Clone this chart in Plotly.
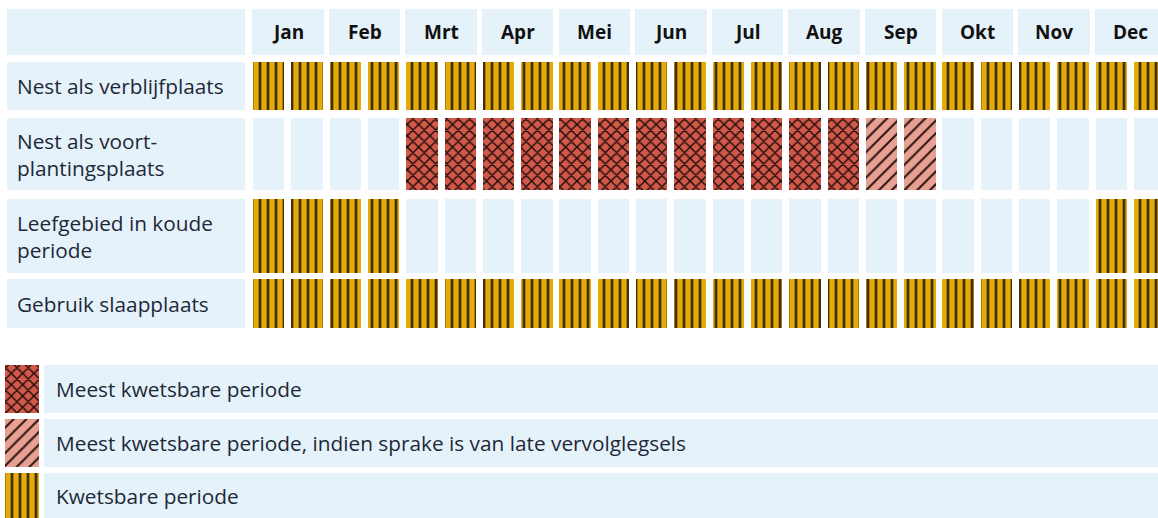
import plotly.graph_objects as go

# ---------------- data ----------------
months = ["Jan", "Feb", "Mrt", "Apr", "Mei", "Jun", "Jul", "Aug", "Sep", "Okt", "Nov", "Dec"]
row_labels = [
    "Nest als verblijfplaats",
    "Nest als voort-<br>plantingsplaats",
    "Leefgebied in koude<br>periode",
    "Gebruik slaapplaats",
]
# codes per half month: 0 = geen, 1 = kwetsbaar, 2 = meest kwetsbaar,
# 3 = meest kwetsbaar indien late vervolglegsels
nest_verblijfplaats = [1, 1, 1, 1, 1, 1, 1, 1, 1, 1, 1, 1, 1, 1, 1, 1, 1, 1, 1, 1, 1, 1, 1, 1]
nest_voortplanting = [0, 0, 0, 0, 2, 2, 2, 2, 2, 2, 2, 2, 2, 2, 2, 2, 3, 3, 0, 0, 0, 0, 0, 0]
leefgebied_koud = [1, 1, 1, 1, 0, 0, 0, 0, 0, 0, 0, 0, 0, 0, 0, 0, 0, 0, 0, 0, 0, 0, 1, 1]
slaapplaats = [1, 1, 1, 1, 1, 1, 1, 1, 1, 1, 1, 1, 1, 1, 1, 1, 1, 1, 1, 1, 1, 1, 1, 1]
rows = [nest_verblijfplaats, nest_voortplanting, leefgebied_koud, slaapplaats]

legend_codes = [2, 3, 1]
legend_labels = [
    "Meest kwetsbare periode",
    "Meest kwetsbare periode, indien sprake is van late vervolglegsels",
    "Kwetsbare periode",
]

# ---------------- styling ----------------
LIGHT = "#E5F2FA"
TEXT = "#1E2838"
FONT = "Open Sans"
GOLD = "#E4AC0B"
# each style is a list of pattern layers drawn on top of each other
styles = {
    0: [dict(color=LIGHT, pattern=dict(shape=""))],
    1: [dict(color=GOLD, pattern=dict(shape="|", fgcolor="#7A5600", bgcolor=GOLD,
                                      size=8, solidity=0.38, fillmode="replace")),
        dict(color="rgba(0,0,0,0)", pattern=dict(shape="|", fgcolor="#111111", bgcolor="rgba(0,0,0,0)",
                                                 size=8, solidity=0.14, fillmode="replace"))],
    2: [dict(color="#D2594A", pattern=dict(shape="x", fgcolor="#1A0A08", bgcolor="#D2594A",
                                           size=8, solidity=0.32, fillmode="replace"))],
    3: [dict(color="#E7A092", pattern=dict(shape="/", fgcolor="#2A1410", bgcolor="#E7A092",
                                           size=9, solidity=0.22, fillmode="replace"))],
}

W, H = 1158, 518
PITCH = 38.3          # px per half month
X_FIRST = 268.75      # px centre of first half-month cell
CELL_W = 0.82         # in half-month units


def ux(px):
    return (px - X_FIRST) / PITCH


header_band = (9, 55)
row_bands = [(62, 110), (118, 190), (199, 273), (279, 328)]
legend_bands = [(365, 413), (419, 467), (473, 522)]

fig = go.Figure()

# month header cells
fig.add_trace(go.Bar(
    x=[2 * m + 0.5 for m in range(len(months))],
    y=[header_band[1] - header_band[0]] * len(months),
    base=[header_band[0]] * len(months),
    width=1.86,
    marker=dict(color=LIGHT, line=dict(width=0)),
    hoverinfo="skip", showlegend=False,
))

# data cells
for band, values in zip(row_bands, rows):
    for code in sorted(set(values)):
        xs = [i for i, v in enumerate(values) if v == code]
        for st in styles[code]:
            fig.add_trace(go.Bar(
                x=xs,
                y=[band[1] - band[0]] * len(xs),
                base=[band[0]] * len(xs),
                width=CELL_W,
                marker=dict(color=st["color"], pattern=st["pattern"], line=dict(width=0)),
                hoverinfo="skip", showlegend=False,
            ))

# legend swatches
for band, code in zip(legend_bands, legend_codes):
    for st in styles[code]:
        fig.add_trace(go.Bar(
            x=[(ux(5) + ux(39)) / 2],
            y=[band[1] - band[0]],
            base=[band[0]],
            width=ux(39) - ux(5),
            marker=dict(color=st["color"], pattern=st["pattern"], line=dict(width=0)),
            hoverinfo="skip", showlegend=False,
        ))

shapes = []
# label column backgrounds
for band in [header_band] + row_bands:
    shapes.append(dict(type="rect", xref="x", yref="y", x0=ux(7), x1=ux(245), y0=band[0], y1=band[1],
                       fillcolor=LIGHT, line=dict(width=0), layer="below"))
# legend text boxes
for band in legend_bands:
    shapes.append(dict(type="rect", xref="x", yref="y", x0=ux(44), x1=ux(1170), y0=band[0], y1=band[1],
                       fillcolor=LIGHT, line=dict(width=0), layer="below"))

annotations = []
for m, name in enumerate(months):
    annotations.append(dict(x=2 * m + 0.5, y=sum(header_band) / 2, text="<b>%s</b>" % name, showarrow=False,
                            xanchor="center", yanchor="middle", font=dict(family=FONT, size=19, color="#111111")))
for band, lab in zip(row_bands, row_labels):
    annotations.append(dict(x=ux(15), y=sum(band) / 2, text=lab, showarrow=False, align="left",
                            xanchor="left", yanchor="middle", font=dict(family=FONT, size=20.8, color=TEXT)))
for band, lab in zip(legend_bands, legend_labels):
    annotations.append(dict(x=ux(54), y=(band[0] + min(band[1], 518)) / 2, text=lab, showarrow=False, align="left",
                            xanchor="left", yanchor="middle", font=dict(family=FONT, size=20.8, color=TEXT)))

fig.update_layout(
    width=W, height=H,
    margin=dict(l=0, r=0, t=0, b=0),
    paper_bgcolor="white", plot_bgcolor="white",
    barmode="overlay", bargap=0,
    xaxis=dict(range=[ux(0), ux(W)], visible=False, fixedrange=True),
    yaxis=dict(range=[H, 0], visible=False, fixedrange=True),
    shapes=shapes, annotations=annotations,
    showlegend=False,
)

fig.write_html("out.html", config=dict(displayModeBar=False),
               post_script="document.body.style.margin='0';document.body.style.overflow='hidden';")
